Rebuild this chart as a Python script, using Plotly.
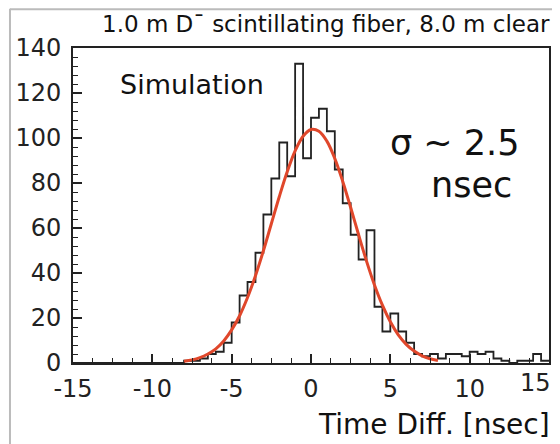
import plotly.graph_objects as go

# Histogram: bin edges every 0.5 ns from -15 to 15 (60 bins)
bin_lo = -15.0
bin_w = 0.5
counts = [
    # -15 .. -8.5
    0, 0, 0, 0, 0, 0, 0, 0, 0, 0, 0, 0, 0,
    # -8.5 .. -5
    0, 1, 1, 2, 4, 5, 9,
    # -5 .. 0
    18, 30, 36, 49, 66, 82, 98, 83, 133, 91,
    # 0 .. 5
    109, 113, 103, 86, 71, 57, 46, 59, 25, 14,
    # 5 .. 10
    22, 14, 9, 4, 3, 4, 2, 4, 4, 3,
    # 10 .. 15
    5, 4, 5, 2, 1, 0, 1, 1, 4, 1,
]

# Fitted curve, read at these times
fit_t = [-8, -7.5, -7, -6.5, -6, -5.5, -5, -4.5, -4, -3.5, -3, -2.5, -2, -1.5,
         -1, -0.5, 0, 0.5, 1, 1.5, 2, 2.5, 3, 3.5, 4, 4.5, 5, 5.5, 6, 6.5, 7,
         7.5, 8]
fit_y = [0.8, 1.4, 2.4, 4.0, 6.3, 9.8, 14.7, 21, 29.1, 38.8, 49.9, 61.9, 73.9,
         85, 94.3, 100.8, 103.8, 103, 98.6, 90.9, 80.7, 69.1, 57, 45.3, 34.7,
         25.7, 18.3, 12.5, 8.3, 5.3, 3.2, 1.9, 1.1]

x_ticks = [-15, -10, -5, 0, 5, 10, 15]
y_ticks = [0, 20, 40, 60, 80, 100, 120, 140]

edges = [bin_lo + i * bin_w for i in range(len(counts) + 1)]
step_y = counts + [counts[-1]]

FONT = "DejaVu Sans"

fig = go.Figure()
fig.add_trace(go.Scatter(x=edges, y=step_y, mode="lines", line_shape="hv",
                         line=dict(color="#222222", width=1.8),
                         hoverinfo="skip", showlegend=False))
fig.add_trace(go.Scatter(x=fit_t, y=fit_y, mode="lines", line_shape="spline",
                         line=dict(color="#e0472b", width=3),
                         hoverinfo="skip", showlegend=False))

axis_common = dict(showgrid=False, zeroline=False, showline=True, mirror=True,
                   linecolor="#222", linewidth=2, ticks="inside",
                   tickcolor="#222", tickwidth=1.5, ticklen=9,
                   tickfont=dict(family=FONT, size=24, color="#222"))

# the last x label sits flush against the right edge, so it is placed as an annotation
x_ticktext = [str(v) for v in x_ticks[:-1]] + [""]

fig.update_xaxes(range=[-15, 15], tickvals=x_ticks, ticktext=x_ticktext,
                 minor=dict(dtick=1.25, ticks="inside", ticklen=5, tickcolor="#222", tickwidth=1.2),
                 ticklabelstandoff=3, automargin=False, **axis_common)
fig.update_yaxes(range=[0, 140], tickvals=y_ticks, ticktext=[str(v) for v in y_ticks],
                 minor=dict(dtick=4, ticks="inside", ticklen=5, tickcolor="#222", tickwidth=1.2),
                 ticklabelstandoff=5, automargin=False, **axis_common)

annotations = [
    dict(text="1.0 m D¯ scintillating fiber, 8.0 m clear", xref="paper", yref="paper",
         x=1.006, y=1.075, xanchor="right", yanchor="middle", showarrow=False,
         font=dict(family=FONT, size=23, color="#111")),
    dict(text="Time Diff. [nsec]", xref="paper", yref="paper",
         x=1.006, y=-0.195, xanchor="right", yanchor="middle", showarrow=False,
         font=dict(family=FONT, size=28, color="#111")),
    dict(text=str(x_ticks[-1]), xref="paper", yref="paper",
         x=1.008, y=-0.064, xanchor="right", yanchor="middle", showarrow=False,
         font=dict(family=FONT, size=24, color="#222")),
    dict(text="Simulation", xref="x", yref="y", x=-12.15, y=124,
         xanchor="left", yanchor="middle", showarrow=False,
         font=dict(family=FONT, size=27, color="#111")),
    dict(text="σ ~ 2.5", xref="x", yref="y", x=13.25, y=97.8,
         xanchor="right", yanchor="middle", showarrow=False,
         font=dict(family=FONT, size=35, color="#111")),
    dict(text="nsec", xref="x", yref="y", x=12.8, y=79,
         xanchor="right", yanchor="middle", showarrow=False,
         font=dict(family=FONT, size=35, color="#111")),
]

shapes = [
    dict(type="line", xref="paper", yref="paper", x0=-0.1324, x1=-0.1324, y0=1.125, y1=-0.3,
         line=dict(color="#bbbbbb", width=2)),
    dict(type="line", xref="paper", yref="paper", x0=-0.1324, x1=1.05, y0=1.123, y1=1.123,
         line=dict(color="#bbbbbb", width=2)),
]

# page has an 8px body margin, so the figure is laid out 8px smaller
fig.update_layout(width=552, height=436, margin=dict(l=65, r=11, t=40, b=81),
                  paper_bgcolor="white", plot_bgcolor="white",
                  annotations=annotations, shapes=shapes, showlegend=False)

fig.write_html("out.html")
